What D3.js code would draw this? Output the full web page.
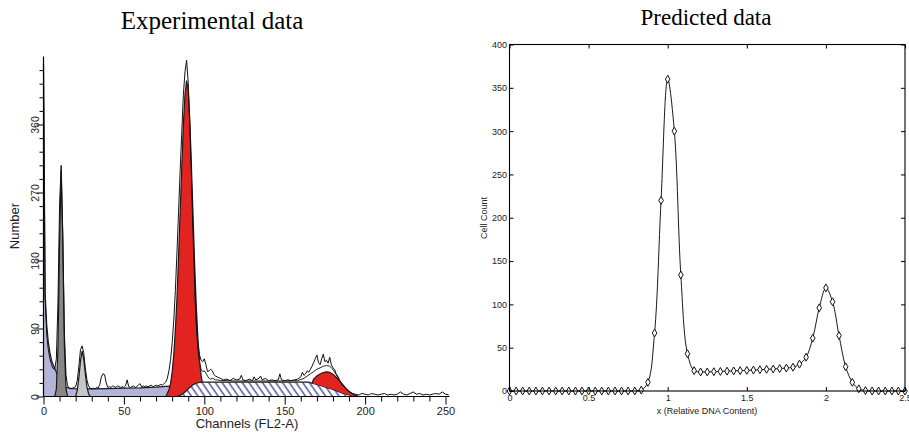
<!DOCTYPE html>
<html>
<head>
<meta charset="utf-8">
<script src="https://cdn.jsdelivr.net/npm/d3@7"></script>
<style>
  body { margin: 0; background: #fff; }
  svg { display: block; }
</style>
</head>
<body>
<svg id="chart" width="909" height="432"></svg>
<script>
// ---- Experimental data (flow cytometry histogram, channel -> count) ----
const rawCounts = [
  [0,440],[1,131],[2,82],[3,62],[4,50],[5,42],[6,37],[7,36],[8,50],[9,125],[10,255],[11,306],[12,215],[13,85],[14,28],[15,14],
  [16,11],[17,10],[18,11],[19,12],[20,13],[21,21],[22,40],[23,62],[24,67],[25,58],[26,38],[27,22],[28,14],[29,11],[30,10],
  [31,11],[32,10],[33,12],[34,11],[35,16],[36,26],[37,30],[38,29],[39,18],[40,12],[41,13],[42,12],[43,14],[44,13],[45,12],
  [46,14],[47,13],[48,12],[49,13],[50,12],[51,14],[52,22],[53,13],[54,12],[55,13],[56,14],[57,12],[58,13],[59,15],[60,17],
  [61,13],[62,14],[63,13],[64,14],[65,13],[66,14],[67,15],[68,13],[69,14],[70,15],[71,14],[72,15],[73,16],[74,15],[75,17],
  [76,19],[77,24],[78,34],[79,48],[80,70],[81,100],[82,140],[83,190],[84,245],[85,300],[86,350],[87,400],[88,430],[89,445],
  [90,415],[91,360],[92,290],[93,215],[94,150],[95,100],[96,70],[97,55],[98,48],[99,46],[100,50],[101,42],[102,33],[103,34],
  [104,36],[105,34],[106,29],[107,27],[108,26],[109,25],[110,24],[112,22],[114,23],[116,21],[118,24],[120,22],[122,23],
  [123,28],[124,22],[126,21],[128,23],[130,21],[131,26],[132,22],[134,24],[135,27],[136,22],[138,24],[140,21],[142,22],
  [144,21],[146,22],[147,30],[148,22],[150,21],[152,22],[154,21],[156,22],[158,23],[160,26],[161,32],[162,28],[163,30],
  [164,34],[165,32],[166,36],[167,40],[168,45],[169,50],[170,55],[171,45],[172,42],[173,50],[174,56],[175,46],[176,48],
  [177,44],[178,52],[179,42],[180,38],[181,36],[182,30],[183,27],[184,22],[186,15],[188,10],[190,6],[192,4],[194,3],
  [196,2],[198,4],[200,3],[202,2],[204,4],[206,3],[208,2],[210,3],[212,4],[214,2],[216,3],[218,2],[220,3],[222,6],
  [224,3],[226,2],[228,4],[230,6],[232,3],[234,4],[236,2],[238,3],[240,2],[242,3],[244,4],[246,3],[248,6],[250,3],[252,2]
];
// second (smoother) trace where it separates from the first
const rawCountsB = [
  [94,140],[95,95],[96,62],[97,45],[98,36],[99,33],[100,34],[101,31],[102,27],[103,24],[104,23],[105,24],[106,23],
  [107,22],[108,22],[110,21],[114,21],[120,20.5],[130,20.5],[140,20.5],[150,20.5],[158,21],[162,24],[164,27],[166,30],
  [168,33],[170,36],[172,38],[174,40],[176,41],[178,40],[180,36],[182,29],[184,22],[186,15],[188,10],[190,6],[192,4]
];

// fitted components
const debris = [
  [0,440],[1,136],[2,95],[3,72],[4,58],[5,48],[6,42],[7,37],[8,32],[9,27],[10,22],[11,18],[12,15],[13,13],[14,12],
  [16,11],[18,10.5],[22,10],[30,10],[40,10.5],[50,11],[60,11.5],[70,12.5],[76,13.5],[80,13.5],[84,8],[86,0]
];
const peakA = [[7,0],[8,10],[9,66],[10,205],[11,300],[12,205],[13,66],[14,10],[15,0]];
const peakB = [[20,0],[21,8],[22,25],[23,47],[24,60],[25,50],[26,30],[27,13],[28,4],[29,0]];
const g1Peak = [
  [76,0],[77,4],[78,9],[79,17],[80,32],[81,55],[82,88],[83,130],[84,185],[85,245],[86,305],[87,360],[88,400],[89,418],
  [90,405],[91,365],[92,305],[93,240],[94,175],[95,120],[96,78],[97,48],[98,28],[99,15],[100,7],[101,3],[102,0]
];
const sPhase = [
  [83,0],[85,1.5],[87,4],[89,8],[91,12],[93,15.5],[95,17.5],[97,18.5],[99,19],[165,19],[167,17.5],[170,16],[172,14.7],
  [174,13.3],[176,12],[178,10.8],[180,9.5],[182,7.8],[184,6],[186,4.5],[188,3],[190,2],[192,1],[194,0.4],[196,0]
];
// G2 height above the S-phase
const g2Peak = [
  [167,0],[168,6],[170,11],[172,15],[174,18.5],[176,20.7],[178,21.2],[180,20.1],[182,17.7],[184,14.8],[186,11.5],
  [188,8.1],[190,5],[192,3],[194,1.1],[196,0]
];
const chTicks = [0, 50, 100, 150, 200, 250];
const numTicks = [0, 90, 180, 270, 360];

// ---- Predicted data ----
const predX = [
  0, 0.042, 0.083, 0.125, 0.167, 0.208, 0.25, 0.292, 0.333, 0.375, 0.417, 0.458, 0.5, 0.542, 0.583, 0.625, 0.667,
  0.708, 0.75, 0.792, 0.833, 0.875, 0.917, 0.958, 1, 1.042, 1.083, 1.125, 1.167, 1.208, 1.25, 1.292, 1.333, 1.375,
  1.417, 1.458, 1.5, 1.542, 1.583, 1.625, 1.667, 1.708, 1.75, 1.792, 1.833, 1.875, 1.917, 1.958, 2, 2.042, 2.083,
  2.125, 2.167, 2.208, 2.25, 2.292, 2.333, 2.375, 2.417, 2.458, 2.5
];
const predCount = [
  0, 0, 0, 0, 0, 0, 0, 0, 0, 0, 0, 0, 0, 0, 0, 0, 0, 0, 0, 0,
  1, 10, 67, 220, 360, 300, 134, 43, 23.5, 22, 22, 22.3, 22.6, 22.9, 23.2, 23.5, 23.8, 24.2, 24.6, 25, 25.4, 25.9,
  26.5, 27.5, 31, 39, 61, 96, 119, 103, 64, 28, 10, 2.5, 0.5, 0, 0, 0, 0, 0, 0
];
const predXTicks = [0, 0.5, 1, 1.5, 2, 2.5];
const predYTicks = [0, 50, 100, 150, 200, 250, 300, 350, 400];

const svg = d3.select('#chart');
const sans = 'Liberation Sans, Arial, sans-serif';
const serif = 'Liberation Serif, Times New Roman, serif';

// hatch pattern for S-phase
const defs = svg.append('defs');
const pat = defs.append('pattern')
  .attr('id', 'hatch')
  .attr('patternUnits', 'userSpaceOnUse')
  .attr('width', 5.5).attr('height', 10)
  .attr('patternTransform', 'rotate(-35)');
pat.append('rect').attr('width', 5.5).attr('height', 10).attr('fill', '#fff');
pat.append('line').attr('x1', 1).attr('y1', 0).attr('x2', 1).attr('y2', 10)
  .attr('stroke', '#16207e').attr('stroke-width', 1.1);

// ================= left: experimental =================
const xL = d3.scaleLinear().domain([0, 250]).range([43.5, 445.5]);
const yL = d3.scaleLinear().domain([0, 450]).range([396.5, 56.5]);
const left = svg.append('g');

const areaL = d3.area().x(d => xL(d[0])).y0(yL(0)).y1(d => yL(d[1]));
const lineL = d3.line().x(d => xL(d[0])).y(d => yL(d[1]));

function fillPart(data, color) {
  left.append('path').datum(data).attr('d', areaL).attr('fill', color);
  left.append('path').datum(data).attr('d', lineL)
    .attr('fill', 'none').attr('stroke', '#1a1a1a').attr('stroke-width', 1.2);
}

fillPart(debris, '#b4b4d8');
fillPart(peakA, '#878787');
fillPart(peakB, '#c4c7c7');
fillPart(g1Peak, '#e3231f');
fillPart(sPhase, 'url(#hatch)');

// G2 sits on top of the S-phase
const sAt = d3.scaleLinear().domain(sPhase.map(d => d[0])).range(sPhase.map(d => d[1])).clamp(true);
left.append('path').datum(g2Peak)
  .attr('d', d3.area().x(d => xL(d[0])).y0(d => yL(sAt(d[0]))).y1(d => yL(sAt(d[0]) + d[1])))
  .attr('fill', '#e3231f');
left.append('path').datum(g2Peak)
  .attr('d', d3.line().x(d => xL(d[0])).y(d => yL(sAt(d[0]) + d[1])))
  .attr('fill', 'none').attr('stroke', '#1a1a1a').attr('stroke-width', 1.2);

// raw histogram traces
left.append('path').datum(rawCountsB).attr('d', lineL)
  .attr('fill', 'none').attr('stroke', '#222').attr('stroke-width', 1);
left.append('path').datum(rawCounts).attr('d', lineL)
  .attr('fill', 'none').attr('stroke', '#111').attr('stroke-width', 1);

// axes
const xAxisL = left.append('g').attr('transform', `translate(0,${yL(0)})`)
  .call(d3.axisBottom(xL).tickValues(d3.range(0, 251, 10)).tickSizeOuter(0).tickSize(5).tickPadding(5)
    .tickFormat(d => chTicks.includes(d) ? d : ''));
xAxisL.select('.domain').remove();
xAxisL.selectAll('.tick').filter(d => chTicks.includes(d)).select('line').attr('y2', 8);
xAxisL.selectAll('text').attr('font-size', 11).attr('font-family', sans).attr('fill', '#222').attr('dy', '0.75em');
left.append('line').attr('x1', xL(0)).attr('x2', xL(252.5)).attr('y1', yL(0)).attr('y2', yL(0))
  .attr('stroke', '#000').attr('stroke-width', 1.2);

const yAxisL = left.append('g').attr('transform', `translate(${xL(0)},0)`)
  .call(d3.axisLeft(yL).tickValues(d3.range(0, 433, 18)).tickSizeOuter(0).tickSize(4)
    .tickFormat(d => numTicks.includes(d) ? d : ''));
yAxisL.select('.domain').remove();
yAxisL.selectAll('.tick').filter(d => numTicks.includes(d)).select('line').attr('x2', -7);
yAxisL.selectAll('text')
  .attr('x', null).attr('dy', null)
  .attr('transform', 'translate(-4.5,0) rotate(-90)')
  .attr('text-anchor', 'middle')
  .attr('font-size', 10.5).attr('font-family', sans).attr('fill', '#222');
left.append('line').attr('x1', xL(0)).attr('x2', xL(0)).attr('y1', yL(0)).attr('y2', yL(450))
  .attr('stroke', '#000').attr('stroke-width', 1.2);

left.append('text').attr('transform', 'translate(19,226) rotate(-90)')
  .attr('text-anchor', 'middle').attr('font-family', sans).attr('font-size', 13).attr('fill', '#222')
  .text('Number');
left.append('text').attr('x', 247).attr('y', 428)
  .attr('text-anchor', 'middle').attr('font-family', sans).attr('font-size', 13).attr('fill', '#222')
  .text('Channels (FL2-A)');
svg.append('text').attr('x', 212).attr('y', 29)
  .attr('text-anchor', 'middle').attr('font-family', serif).attr('font-size', 25).attr('fill', '#000')
  .text('Experimental data');

// ================= right: predicted =================
const xR = d3.scaleLinear().domain([0, 2.5]).range([509.5, 905]);
const yR = d3.scaleLinear().domain([0, 400]).range([391, 44.5]);
const right = svg.append('g');
const pred = predX.map((x, i) => [x, predCount[i]]);

right.append('path').datum(pred)
  .attr('d', d3.line().curve(d3.curveCatmullRom.alpha(0.5)).x(d => xR(d[0])).y(d => yR(d[1])))
  .attr('fill', 'none').attr('stroke', '#000').attr('stroke-width', 0.9);

right.selectAll('.pt').data(pred).enter().append('path')
  .attr('class', 'pt')
  .attr('transform', d => `translate(${xR(d[0])},${yR(d[1])})`)
  .attr('d', d3.symbol(d3.symbolDiamond, 18))
  .attr('fill', '#fff').attr('stroke', '#111').attr('stroke-width', 1);

const fmt = d3.format('');
function styleAxis(g) {
  g.select('.domain').remove();
  g.selectAll('line').attr('stroke', '#000');
  g.selectAll('text').attr('font-family', sans).attr('font-size', 9).attr('fill', '#222');
}
right.append('g').attr('transform', `translate(0,${yR(0)})`)
  .call(d3.axisBottom(xR).tickValues(predXTicks).tickSizeInner(-4).tickSizeOuter(0).tickPadding(4).tickFormat(fmt))
  .call(styleAxis);
right.append('g').attr('transform', `translate(${xR(0)},0)`)
  .call(d3.axisLeft(yR).tickValues(predYTicks).tickSizeInner(-4).tickSizeOuter(0).tickPadding(2.5).tickFormat(fmt))
  .call(styleAxis);
right.append('g').attr('transform', `translate(0,${yR(400)})`)
  .call(d3.axisTop(xR).tickValues(predXTicks).tickSizeInner(-4).tickSizeOuter(0).tickFormat(''))
  .call(styleAxis);
right.append('g').attr('transform', `translate(${xR(2.5)},0)`)
  .call(d3.axisRight(yR).tickValues(predYTicks).tickSizeInner(-4).tickSizeOuter(0).tickFormat(''))
  .call(styleAxis);
right.append('rect')
  .attr('x', xR(0)).attr('y', yR(400)).attr('width', xR(2.5) - xR(0)).attr('height', yR(0) - yR(400))
  .attr('fill', 'none').attr('stroke', '#000').attr('stroke-width', 1.1);

right.append('text').attr('transform', 'translate(487,218) rotate(-90)')
  .attr('text-anchor', 'middle').attr('font-family', sans).attr('font-size', 9).attr('fill', '#222')
  .text('Cell Count');
right.append('text').attr('x', 707).attr('y', 414)
  .attr('text-anchor', 'middle').attr('font-family', sans).attr('font-size', 9).attr('fill', '#222')
  .text('x (Relative DNA Content)');
svg.append('text').attr('x', 706).attr('y', 25)
  .attr('text-anchor', 'middle').attr('font-family', serif).attr('font-size', 23).attr('fill', '#000')
  .text('Predicted data');
</script>
</body>
</html>
